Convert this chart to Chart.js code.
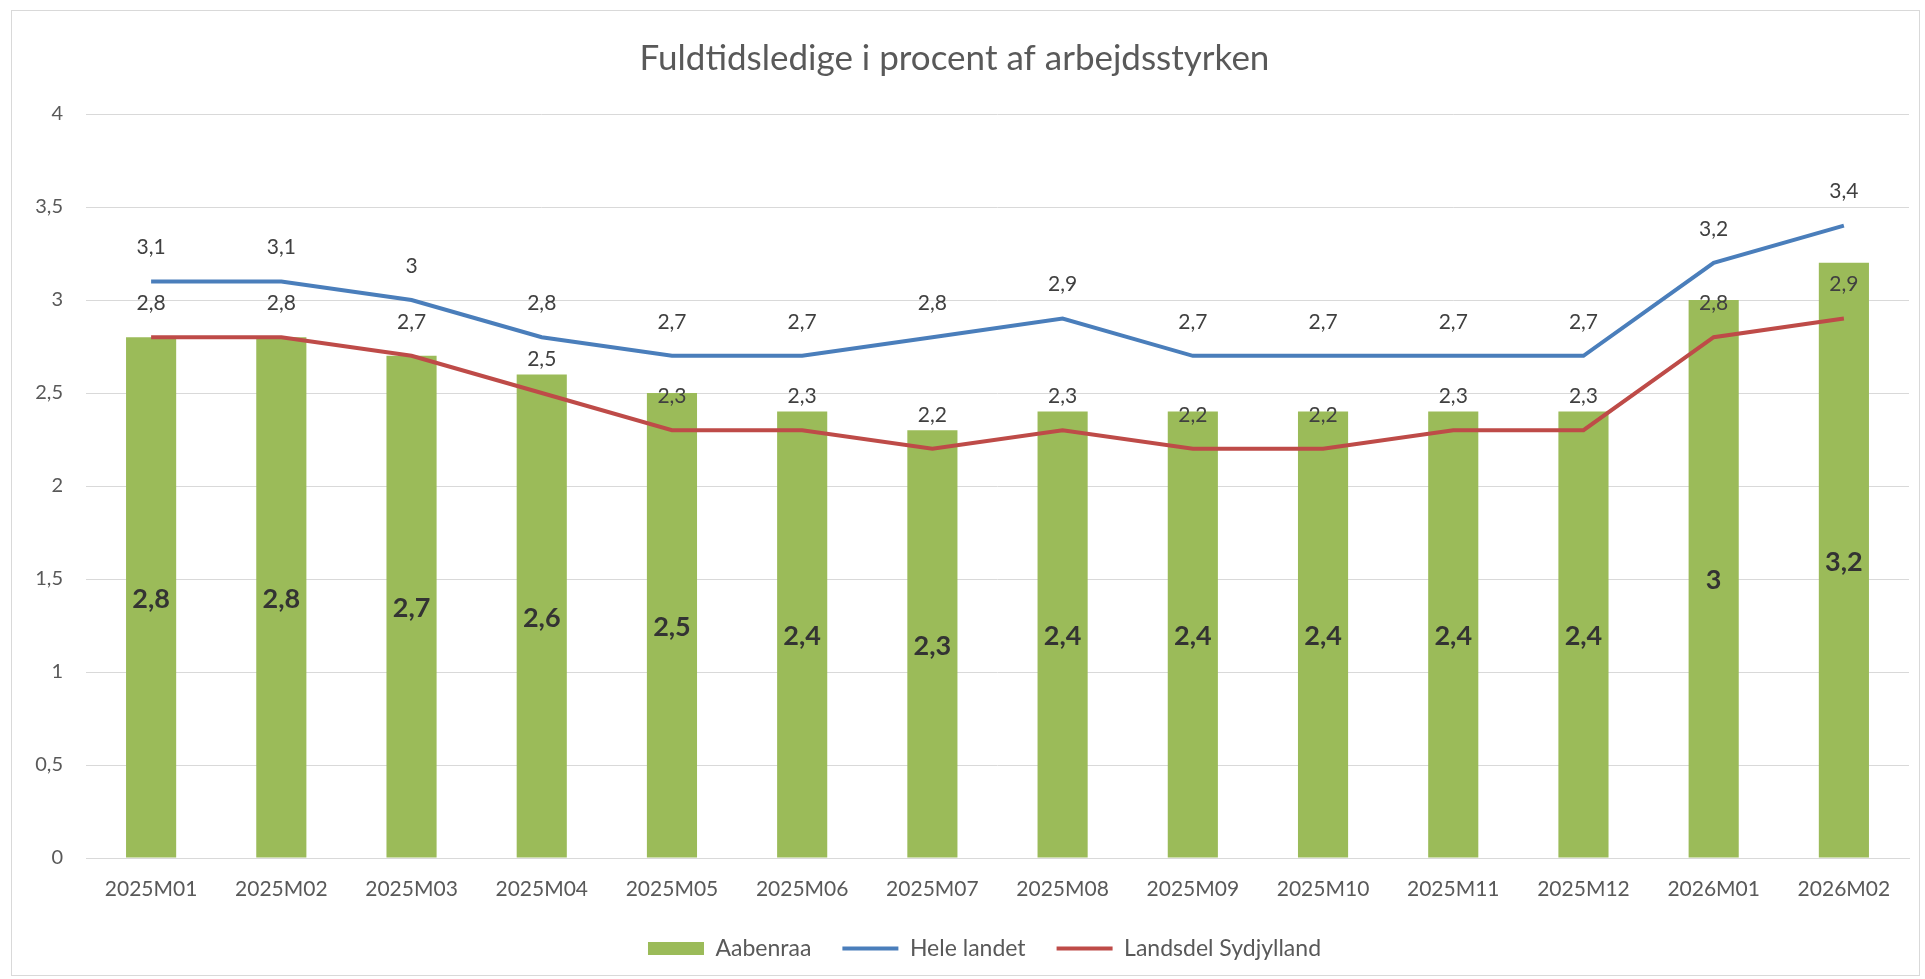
<!DOCTYPE html>
<html lang="da">
<head>
<meta charset="utf-8">
<title>Fuldtidsledige i procent af arbejdsstyrken</title>
<script src="https://cdn.jsdelivr.net/npm/chart.js@4.4.1/dist/chart.umd.min.js"></script>
<style>
  html, body { margin: 0; padding: 0; background: #fff; }
  #wrap { position: relative; width: 1925px; height: 979px; }
</style>
</head>
<body>
<div id="wrap"><canvas id="ledighedChart" width="1925" height="979"></canvas></div>
<script>
const months = [
  "2025M01", "2025M02", "2025M03", "2025M04", "2025M05", "2025M06", "2025M07",
  "2025M08", "2025M09", "2025M10", "2025M11", "2025M12", "2026M01", "2026M02",
];
const aabenraa = [2.8, 2.8, 2.7, 2.6, 2.5, 2.4, 2.3, 2.4, 2.4, 2.4, 2.4, 2.4, 3, 3.2];
const heleLandet = [3.1, 3.1, 3, 2.8, 2.7, 2.7, 2.8, 2.9, 2.7, 2.7, 2.7, 2.7, 3.2, 3.4];
const sydjylland = [2.8, 2.8, 2.7, 2.5, 2.3, 2.3, 2.2, 2.3, 2.2, 2.2, 2.3, 2.3, 2.8, 2.9];

const FONT = "Lato, 'Open Sans', sans-serif";
const TEXT_COLOR = "#595959";

// dansk decimalkomma
const fmt = (v) => String(v).replace(".", ",");

// tynd grå ramme om hele diagrammet + legend lidt til højre som i Excel
const frame = {
  id: "frame",
  afterLayout(chart) {
    if (chart.legend) {
      chart.legend.left += 30;
      chart.legend.right += 30;
    }
  },
  beforeDraw(chart) {
    const ctx = chart.ctx;
    ctx.save();
    ctx.strokeStyle = "#d9d9d9";
    ctx.lineWidth = 1;
    ctx.strokeRect(11.5, 10.5, chart.width - 17, chart.height - 14);
    ctx.restore();
  },
};

// værdilabels (datalabels-plugin findes ikke lokalt)
const valueLabels = {
  id: "valueLabels",
  afterDatasetsDraw(chart) {
    const ctx = chart.ctx;
    ctx.save();
    ctx.textAlign = "center";
    ctx.textBaseline = "middle";
    chart.data.datasets.forEach((dataset, i) => {
      const meta = chart.getDatasetMeta(i);
      meta.data.forEach((el, j) => {
        const text = fmt(dataset.data[j]);
        if (dataset.type === "bar") {
          ctx.font = "bold 27px " + FONT;
          ctx.fillStyle = "#333333";
          ctx.fillText(text, el.x, (el.y + el.base) / 2 + 2);
        } else {
          ctx.font = "21px " + FONT;
          ctx.fillStyle = "#404040";
          ctx.fillText(text, el.x, el.y - 34);
        }
      });
    });
    ctx.restore();
  },
};

function createChart(chartId, config) {
  const ctx = document.getElementById(chartId);
  if (!ctx) {
    console.error(`Element with id ${chartId} not found`);
    return null;
  }
  return new Chart(ctx, config);
}

createChart("ledighedChart", {
  data: {
    labels: months,
    datasets: [
      {
        type: "bar",
        label: "Aabenraa",
        data: aabenraa,
        backgroundColor: "#9BBB59",
        borderWidth: 0,
        pointStyle: "rect",
        categoryPercentage: 1,
        barPercentage: 0.385,
        order: 2,
      },
      {
        type: "line",
        label: "Hele landet",
        data: heleLandet,
        borderColor: "#4A7EBB",
        backgroundColor: "#4A7EBB",
        borderWidth: 4,
        pointRadius: 0,
        pointStyle: "line",
        tension: 0,
        order: 1,
      },
      {
        type: "line",
        label: "Landsdel Sydjylland",
        data: sydjylland,
        borderColor: "#BE4B48",
        backgroundColor: "#BE4B48",
        borderWidth: 4,
        pointRadius: 0,
        pointStyle: "line",
        tension: 0,
        order: 0,
      },
    ],
  },
  options: {
    responsive: false,
    animation: false,
    layout: {
      padding: { left: 0, right: 16, top: 0, bottom: 9 },
    },
    plugins: {
      tooltip: { enabled: false },
      title: {
        display: true,
        text: "Fuldtidsledige i procent af arbejdsstyrken",
        color: TEXT_COLOR,
        font: { family: FONT, size: 35, weight: "normal" },
        padding: { top: 38, bottom: 34 },
      },
      legend: {
        position: "bottom",
        labels: {
          usePointStyle: true,
          pointStyleWidth: 56,
          boxHeight: 13,
          padding: 31,
          color: TEXT_COLOR,
          font: { family: FONT, size: 23 },
          sort: (a, b) => a.datasetIndex - b.datasetIndex,
        },
      },
    },
    scales: {
      x: {
        grid: { display: false, drawTicks: false },
        border: { display: true, color: "#d9d9d9", width: 1 },
        ticks: {
          color: TEXT_COLOR,
          font: { family: FONT, size: 21 },
          padding: 19,
          maxRotation: 0,
        },
        afterFit: (scale) => {
          scale.height = 48;
        },
      },
      y: {
        min: 0,
        max: 4,
        grid: { color: "#d9d9d9", lineWidth: 1, drawTicks: false },
        border: { display: false },
        ticks: {
          stepSize: 0.5,
          color: TEXT_COLOR,
          font: { family: FONT, size: 20 },
          padding: 23,
          callback: (value) => fmt(value),
        },
        afterFit: (scale) => {
          scale.width = 86;
        },
      },
    },
  },
  plugins: [frame, valueLabels],
});
</script>
</body>
</html>
